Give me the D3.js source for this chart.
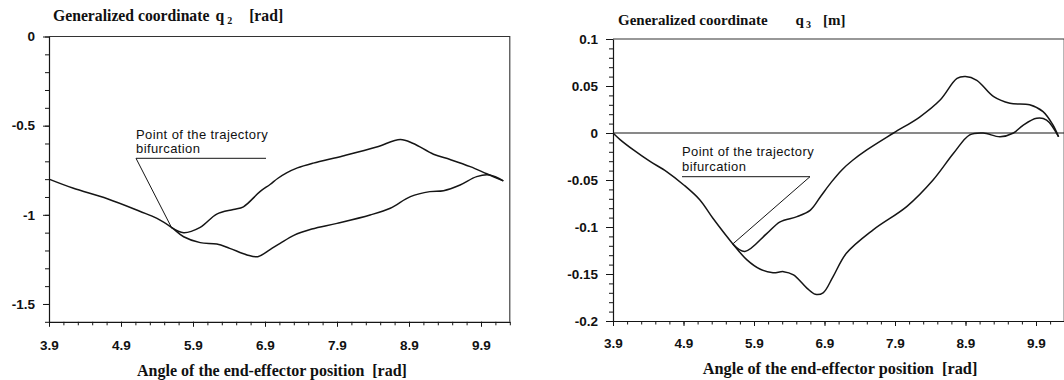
<!DOCTYPE html>
<html>
<head>
<meta charset="utf-8">
<script src="https://cdn.jsdelivr.net/npm/d3@7"></script>
<style>
  html, body { margin: 0; padding: 0; background: #fff; }
  svg { display: block; }
  .title { font-family: "Liberation Serif", serif; font-weight: bold; fill: #111; white-space: pre; }
  .note { font-family: "Liberation Sans", Arial, sans-serif; font-size: 13px; letter-spacing: 0.4px; fill: #111; }
</style>
</head>
<body>
<svg id="chart" width="1064" height="380"></svg>
<script>
// ---------- DATA ----------
// shared x tick labels (angle of end-effector position, rad)
const xTickValues = [3.9, 4.9, 5.9, 6.9, 7.9, 8.9, 9.9];
const xTickLabels = ["3.9", "4.9", "5.9", "6.9", "7.9", "8.9", "9.9"];

// q2 [rad] chart
const q2TickValues = [0, -0.5, -1, -1.5];
const q2TickLabels = ["0", "-0.5", "-1", "-1.5"];
const q2CommonX = [3.9, 4.23, 4.71, 5.16, 5.40, 5.60];
const q2CommonY = [-0.80, -0.85, -0.91, -0.98, -1.02, -1.07];
const q2UpperX = [5.60, 5.77, 6.0, 6.23, 6.46, 6.6, 6.83, 6.97, 7.08, 7.2, 7.35, 7.57, 7.98, 8.45, 8.78, 8.96, 9.24, 9.47, 9.75, 9.98, 10.21];
const q2UpperY = [-1.07, -1.10, -1.07, -0.996, -0.97, -0.955, -0.87, -0.83, -0.795, -0.765, -0.737, -0.71, -0.67, -0.62, -0.577, -0.60, -0.66, -0.69, -0.73, -0.77, -0.81];
const q2LowerX = [5.60, 5.77, 6.0, 6.23, 6.41, 6.65, 6.80, 6.97, 7.11, 7.3, 7.55, 7.9, 8.36, 8.64, 8.92, 9.19, 9.38, 9.61, 9.84, 10.02, 10.21];
const q2LowerY = [-1.07, -1.123, -1.156, -1.164, -1.188, -1.225, -1.235, -1.195, -1.16, -1.115, -1.08, -1.048, -1.001, -0.963, -0.898, -0.87, -0.865, -0.833, -0.786, -0.777, -0.81];

// q3 [m] chart
const q3TickValues = [0.1, 0.05, 0, -0.05, -0.1, -0.15, -0.2];
const q3TickLabels = ["0.1", "0.05", "0", "-0.05", "-0.1", "-0.15", "-0.2"];
const q3CommonX = [3.9, 4.0, 4.19, 4.42, 4.66, 4.90, 5.13, 5.32, 5.60];
const q3CommonY = [0, -0.007, -0.018, -0.030, -0.041, -0.055, -0.071, -0.091, -0.118];
const q3UpperX = [5.60, 5.77, 6.08, 6.27, 6.51, 6.70, 6.85, 7.0, 7.15, 7.3, 7.5, 7.88, 8.25, 8.54, 8.78, 8.9, 9.06, 9.30, 9.53, 9.81, 10.0, 10.14, 10.22];
const q3UpperY = [-0.118, -0.126, -0.107, -0.0945, -0.089, -0.082, -0.067, -0.052, -0.039, -0.029, -0.018, 0.0, 0.017, 0.035, 0.058, 0.060, 0.056, 0.0386, 0.0316, 0.030, 0.0227, 0.0085, -0.004];
const q3LowerX = [5.60, 5.80, 5.99, 6.17, 6.32, 6.46, 6.65, 6.77, 6.88, 7.02, 7.21, 7.59, 8.07, 8.44, 8.73, 8.96, 9.15, 9.39, 9.58, 9.72, 9.91, 10.05, 10.22];
const q3LowerY = [-0.118, -0.135, -0.145, -0.1486, -0.1475, -0.151, -0.165, -0.1716, -0.170, -0.153, -0.128, -0.103, -0.078, -0.05, -0.0216, -0.002, 0.0, -0.004, 0.0, 0.0085, 0.0156, 0.0138, -0.004];

// ---------- DRAW ----------
const svg = d3.select("#chart");
const ink = "#151515";
const zip = (xs, ys) => xs.map((x, i) => [x, ys[i]]);

function styleTickText(sel) {
  sel.selectAll(".tick text")
    .attr("font-family", "'Liberation Sans', Arial, sans-serif")
    .attr("font-weight", "bold")
    .attr("font-size", "13.5px")
    .attr("fill", "#111");
}

function panel(cfg) {
  const g = svg.append("g");
  const x = d3.scaleLinear().domain([3.9, 10.3]).range(cfg.xRange);
  const y = d3.scaleLinear().domain(cfg.yDomain).range(cfg.yRange);
  const [x0, x1] = cfg.xRange;
  const [yb, yt] = cfg.yRange;

  // frame: top and right
  g.append("path")
    .attr("d", `M${x0},${yt}H${x1}V${yb}`)
    .attr("fill", "none").attr("stroke", "#333").attr("stroke-width", 1.1);

  if (cfg.zeroLine) {
    g.append("line").attr("x1", x0).attr("x2", x1)
      .attr("y1", y(0)).attr("y2", y(0))
      .attr("stroke", ink).attr("stroke-width", 1.1);
  }

  // minor ticks
  const xMinor = d3.range(0, 33).map(i => +(3.9 + i * 0.2).toFixed(2));
  g.append("g").attr("transform", `translate(0,${yb})`)
    .call(d3.axisBottom(x).tickValues(xMinor).tickSize(3.5).tickFormat("").tickSizeOuter(0))
    .call(s => s.select(".domain").remove())
    .selectAll("line").attr("stroke", ink);
  g.append("g").attr("transform", `translate(${x0},0)`)
    .call(d3.axisLeft(y).tickValues(cfg.yMinor).tickSize(4).tickFormat("").tickSizeOuter(0))
    .call(s => s.select(".domain").remove())
    .selectAll("line").attr("stroke", ink);

  // major axes
  const xa = g.append("g").attr("transform", `translate(0,${yb})`)
    .call(d3.axisBottom(x).tickValues(xTickValues).tickSize(5).tickPadding(cfg.xPad)
      .tickFormat((d, i) => xTickLabels[i]).tickSizeOuter(0));
  xa.select(".domain").attr("stroke", ink).attr("stroke-width", 1.2);
  xa.selectAll("line").attr("stroke", ink);
  styleTickText(xa);

  const ya = g.append("g").attr("transform", `translate(${x0},0)`)
    .call(d3.axisLeft(y).tickValues(cfg.yTicks).tickSize(cfg.yTickSize).tickPadding(8)
      .tickFormat((d, i) => cfg.yLabels[i]).tickSizeOuter(0));
  ya.select(".domain").attr("stroke", ink).attr("stroke-width", 1.2);
  ya.selectAll("line").attr("stroke", ink);
  styleTickText(ya);

  // curves
  const line = d3.line().x(d => x(d[0])).y(d => y(d[1])).curve(d3.curveCatmullRom.alpha(0.5));
  const common = zip(cfg.cX, cfg.cY);
  const lower = zip(cfg.lX, cfg.lY);
  const upper = zip(cfg.uX, cfg.uY);
  g.append("path").attr("d", line(common.concat(lower.slice(1))))
    .attr("fill", "none").attr("stroke", ink).attr("stroke-width", 1.5);
  g.append("path").attr("d", line(upper))
    .attr("fill", "none").attr("stroke", ink).attr("stroke-width", 1.5);

  // annotation
  const bx = x(cfg.cX[cfg.cX.length - 1]), by = y(cfg.cY[cfg.cY.length - 1]);
  const a = cfg.note;
  g.append("text").attr("class", "note").attr("x", a.x).attr("y", a.y1).text("Point of the trajectory");
  g.append("text").attr("class", "note").attr("x", a.x).attr("y", a.y1 + 14.7).text("bifurcation");
  g.append("path")
    .attr("d", `M${a.ux0},${a.uy}H${a.ux1}`)
    .attr("stroke", ink).attr("stroke-width", 1).attr("fill", "none");
  g.append("line").attr("x1", a.fromRight ? a.ux1 : a.ux0).attr("y1", a.uy)
    .attr("x2", bx).attr("y2", by)
    .attr("stroke", ink).attr("stroke-width", 1);

  // titles
  const T = cfg.title;
  const t = g.append("text").attr("class", "title").attr("x", T.x).attr("y", T.y)
    .style("font-size", T.size + "px");
  t.append("tspan").text("Generalized coordinate");
  t.append("tspan").attr("dx", T.qdx).text("q");
  t.append("tspan").attr("font-size", "10px").attr("dx", T.sdx).attr("dy", 3).text(T.sub);
  t.append("tspan").attr("dx", T.udx).attr("dy", -3).text(T.unit);

  g.append("text").attr("class", "title").attr("text-anchor", "middle")
    .attr("x", cfg.xTitle.x).attr("y", cfg.xTitle.y)
    .style("font-size", cfg.xTitle.size + "px")
    .text("Angle of the end-effector position  [rad]");
}

panel({
  xRange: [49, 509.8], yDomain: [-1.6, 0], yRange: [321.8, 36.5],
  yTicks: q2TickValues, yLabels: q2TickLabels, yTickSize: 6,
  yMinor: d3.range(0, 17).map(i => +(-i * 0.1).toFixed(2)),
  xPad: 14,
  cX: q2CommonX, cY: q2CommonY, uX: q2UpperX, uY: q2UpperY, lX: q2LowerX, lY: q2LowerY,
  note: { x: 136, y1: 138.5, ux0: 136, ux1: 266, uy: 158.3, fromRight: false },
  title: { x: 53, y: 21, size: 15.7, qdx: 6, sdx: 3, sub: "2", udx: 17, unit: "[rad]" },
  xTitle: { x: 272, y: 376, size: 16 }
});

panel({
  xRange: [613, 1064.2], yDomain: [-0.2, 0.1], yRange: [321, 39],
  yTicks: q3TickValues, yLabels: q3TickLabels, yTickSize: 7,
  yMinor: d3.range(0, 31).map(i => +(0.1 - i * 0.01).toFixed(3)),
  xPad: 12, zeroLine: true,
  cX: q3CommonX, cY: q3CommonY, uX: q3UpperX, uY: q3UpperY, lX: q3LowerX, lY: q3LowerY,
  note: { x: 682, y1: 156, ux0: 682, ux1: 810, uy: 176.7, fromRight: true },
  title: { x: 618, y: 25, size: 15, qdx: 28, sdx: 2, sub: "3", udx: 12, unit: "[m]" },
  xTitle: { x: 840, y: 374, size: 16.3 }
});
</script>
</body>
</html>
